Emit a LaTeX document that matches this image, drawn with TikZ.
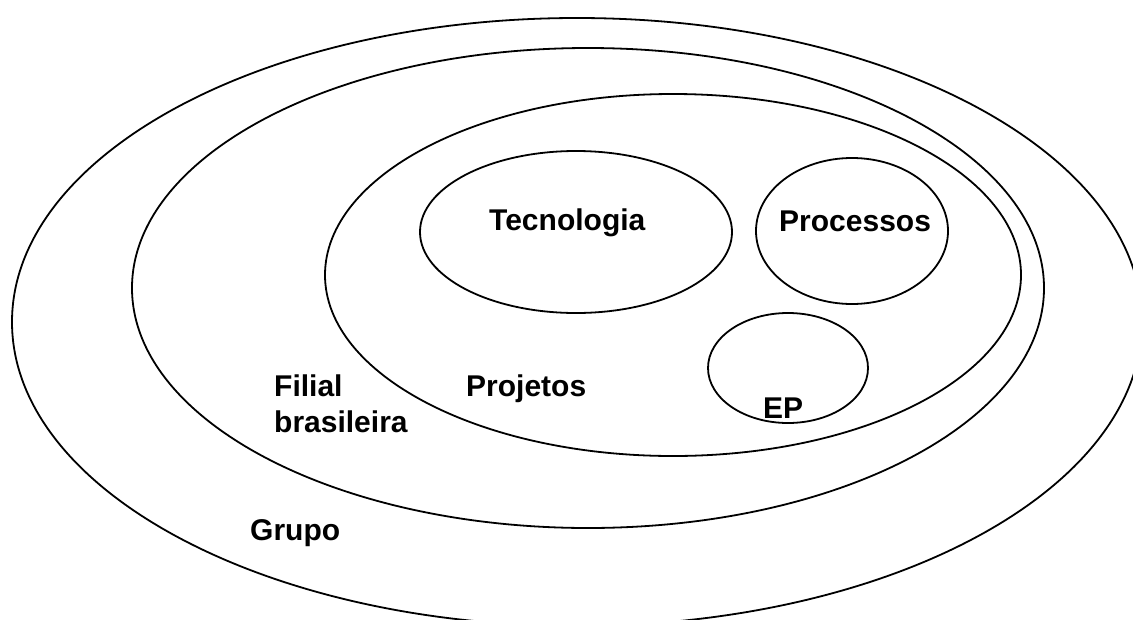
\documentclass[tikz,border=0pt]{standalone}
\usepackage{fontspec}
\setmainfont{Liberation Sans}
\usetikzlibrary{shapes.geometric}
\tikzset{
  ring/.style={draw=black, line width=1.8pt, ellipse, inner sep=0pt,
               minimum width=#1},
  lbl/.style={font=\fontsize{30}{36}\selectfont\bfseries, inner sep=0pt,
              anchor=base west, align=left}
}
\begin{document}
\begin{tikzpicture}[x=1pt,y=-1pt]
  \useasboundingbox (0,0) rectangle (1133,619);
  \clip (0,0) rectangle (1133,619);
  \fill[white] (0,0) rectangle (1133,619);

  % nested circles of the organisation
  \node[ring=1130pt, minimum height=608pt] (grupo)    at (577,322) {};
  \node[ring=912pt,  minimum height=480pt] (filial)   at (588,288) {};
  \node[ring=696pt,  minimum height=362pt] (projetos) at (673,275) {};
  \node[ring=312pt,  minimum height=162pt] (tec)      at (576,232) {};
  \node[ring=192pt,  minimum height=146pt] (proc)     at (852,231) {};
  \node[ring=160pt,  minimum height=110pt] (ep)       at (788,368) {};

  % labels (the two-line label is anchored at its last baseline)
  \node[lbl] (ltec)    at (489,230) {Tecnologia};
  \node[lbl] (lproc)   at (779,231) {Processos};
  \node[lbl] (lproj)   at (466,396) {Projetos};
  \node[lbl] (lep)     at (763,418) {EP};
  \node[lbl] (lfilial) at (274,432) {Filial\\brasileira};
  \node[lbl] (lgrupo)  at (250,540) {Grupo};
\end{tikzpicture}
\end{document}
